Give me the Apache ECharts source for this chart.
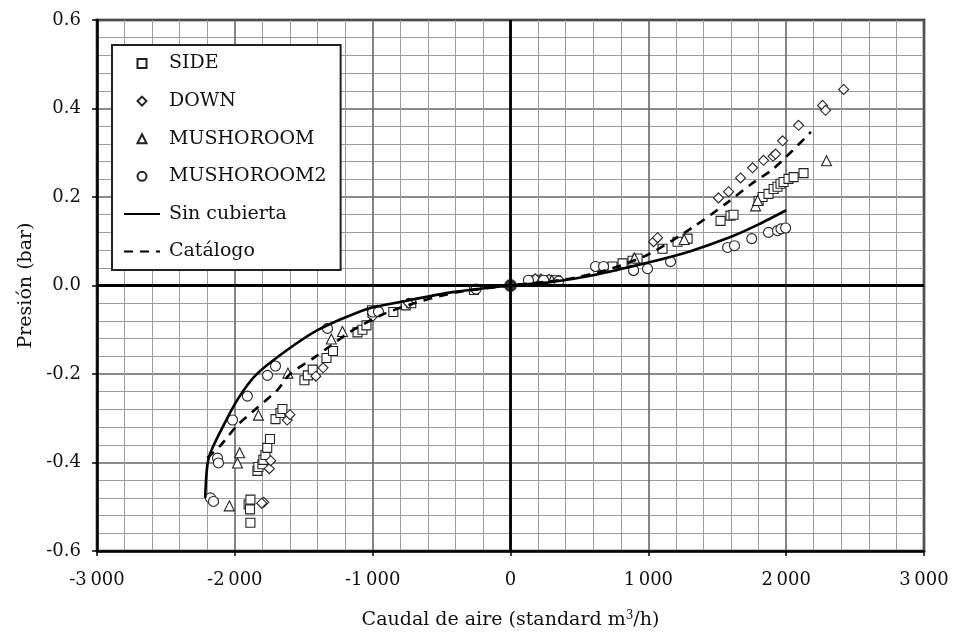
<!DOCTYPE html>
<html>
<head>
<meta charset="utf-8">
<script src="https://cdn.jsdelivr.net/npm/echarts@6/dist/echarts.min.js"></script>
<style>html,body{margin:0;padding:0;background:#fff;}#c{width:954px;height:635px;}</style>
</head>
<body>
<div id="c"></div>
<script>
var xTicks = [-3000, -2000, -1000, 0, 1000, 2000, 3000];
var yTicks = [-0.6, -0.4, -0.2, 0.0, 0.2, 0.4, 0.6];

var sideData = [
  [-1887,-0.536],[-1900,-0.495],[-1887,-0.484],[-1890,-0.506],[-1836,-0.419],[-1829,-0.41],
  [-1800,-0.404],[-1793,-0.394],[-1778,-0.383],[-1765,-0.367],[-1745,-0.347],
  [-1705,-0.302],[-1669,-0.288],[-1655,-0.279],[-1495,-0.214],[-1470,-0.203],[-1435,-0.19],
  [-1335,-0.164],[-1288,-0.148],[-1110,-0.106],[-1074,-0.1],[-1045,-0.09],[-1005,-0.056],
  [-850,-0.06],[-760,-0.045],[-720,-0.04],[-265,-0.01],
  [150,0.012],[200,0.013],[260,0.012],[330,0.012],
  [740,0.043],[813,0.05],[885,0.056],[922,0.061],[1103,0.083],[1212,0.099],[1285,0.106],
  [1524,0.146],[1596,0.158],[1618,0.16],[1800,0.191],[1829,0.2],[1872,0.207],[1909,0.218],
  [1937,0.223],[1959,0.23],[1981,0.234],[2017,0.241],[2054,0.245],[2126,0.254]
];
var downData = [
  [-1790,-0.49],[-1805,-0.492],[-1750,-0.414],[-1740,-0.396],[-1620,-0.304],[-1600,-0.292],
  [-1412,-0.205],[-1360,-0.186],[-1000,-0.07],[-740,-0.04],
  [180,0.015],[280,0.014],
  [1038,0.099],[1067,0.108],[1509,0.198],[1582,0.212],[1669,0.243],[1756,0.266],[1836,0.283],
  [1905,0.292],[1923,0.297],[1974,0.327],[2090,0.362],[2264,0.407],[2286,0.396],[2417,0.443]
];
var mushData = [
  [-2040,-0.498],[-1981,-0.401],[-1965,-0.378],[-1829,-0.293],[-1615,-0.198],[-1300,-0.121],
  [-1219,-0.104],[-965,-0.056],
  [220,0.015],[300,0.012],
  [900,0.062],[1260,0.104],[1778,0.18],[1793,0.192],[2293,0.282]
];
var mush2Data = [
  [-2177,-0.48],[-2155,-0.488],[-2126,-0.39],[-2119,-0.401],[-2017,-0.304],[-1909,-0.25],
  [-1763,-0.203],[-1705,-0.182],[-1328,-0.097],[-1000,-0.06],[-958,-0.059],[-250,-0.008],
  [130,0.012],[240,0.012],[350,0.01],
  [617,0.043],[675,0.043],[893,0.034],[994,0.038],[1161,0.054],[1575,0.086],[1625,0.09],
  [1750,0.106],[1872,0.12],[1937,0.124],[1962,0.128],[1996,0.13]
];
var sinCubierta = [
  [-2215,-0.48],[-2190,-0.39],[-2080,-0.315],[-1975,-0.255],[-1850,-0.203],[-1670,-0.157],
  [-1400,-0.101],[-1040,-0.053],[-780,-0.036],[-420,-0.015],[0,0],[300,0.008],[580,0.022],
  [1000,0.052],[1300,0.077],[1600,0.11],[1800,0.138],[2000,0.17]
];
var catalogo = [
  [-2200,-0.39],[-2100,-0.36],[-1980,-0.315],[-1840,-0.277],[-1690,-0.236],[-1600,-0.2],
  [-1430,-0.164],[-1300,-0.135],[-1160,-0.104],[-940,-0.067],[-700,-0.04],[-400,-0.016],
  [0,0],[400,0.014],[700,0.035],[1000,0.07],[1330,0.133],[1580,0.189],[1750,0.23],
  [1900,0.262],[2030,0.3],[2180,0.347]
];
var origin = [[0,0]];

var FONT = 'DejaVu Serif';
function fmtX(v){
  if (v === 0) return '0';
  var s = String(Math.abs(v)).replace(/\B(?=(\d{3})+(?!\d))/g,'\u2009');
  return (v < 0 ? '-' : '') + s;
}
function hollow(name, symbol, data, size){
  return {
    name: name, type: 'scatter', symbol: symbol, symbolSize: size, data: data,
    itemStyle: { color: '#fff', borderColor: '#222', borderWidth: 1.1, opacity: 1 },
    z: 4
  };
}

var chart = echarts.init(document.getElementById('c'));
chart.setOption({
  backgroundColor: '#fff',
  animation: false,
  grid: { left: 97, right: 30, top: 20, bottom: 82, show: true, borderColor: '#000', borderWidth: 2.5, backgroundColor: 'transparent' },
  legend: {
    orient: 'vertical', left: 112, top: 45,
    padding: [9, 14, 9, 11],
    itemWidth: 36, itemHeight: 9, itemGap: 18.6,
    symbolKeepAspect: true,
    backgroundColor: '#fff', borderColor: '#222', borderWidth: 2,
    textStyle: { fontFamily: FONT, fontSize: 19, color: '#111', padding: [0,0,0,4] },
    data: [
      { name: 'SIDE', icon: 'path://M0,0H10V10H0Z' },
      { name: 'DOWN', icon: 'path://M5,0L10,5L5,10L0,5Z' },
      { name: 'MUSHOROOM', icon: 'path://M5,0L10,10L0,10Z' },
      { name: 'MUSHOROOM2', icon: 'circle' },
      { name: 'Sin cubierta', itemStyle: { opacity: 0 } },
      { name: 'Catálogo', itemStyle: { opacity: 0 } }
    ]
  },
  xAxis: {
    type: 'value', min: xTicks[0], max: xTicks[xTicks.length-1], interval: 1000,
    axisLine: { onZero: false, lineStyle: { color: '#000', width: 2.5 } },
    axisTick: { show: true, length: 5, lineStyle: { color: '#000', width: 1.5 } },
    axisLabel: { formatter: fmtX, fontFamily: FONT, fontSize: 18, color: '#111', margin: 20 },
    splitLine: { show: true, lineStyle: { color: '#666', width: 1.6 } },
    minorTick: { show: false, splitNumber: 5 },
    minorSplitLine: { show: true, lineStyle: { color: '#9c9c9c', width: 1 } },
    name: 'Caudal de aire (standard m{sup|3}/h)', nameLocation: 'middle', nameGap: 59,
    nameTextStyle: { fontFamily: FONT, fontSize: 19, color: '#111',
      rich: { sup: { fontFamily: FONT, fontSize: 12, color: '#111', verticalAlign: 'top', padding: [0,0,9,0] } } }
  },
  yAxis: {
    type: 'value', min: yTicks[0], max: yTicks[yTicks.length-1], interval: 0.2,
    axisLine: { onZero: false, lineStyle: { color: '#000', width: 2.5 } },
    axisTick: { show: true, length: 5, lineStyle: { color: '#000', width: 1.5 } },
    axisLabel: { formatter: function(v){ return (Math.abs(v) < 1e-9 ? 0 : v).toFixed(1); }, fontFamily: FONT, fontSize: 18, color: '#111', margin: 16 },
    splitLine: { show: true, lineStyle: { color: '#666', width: 1.6 } },
    minorTick: { show: false, splitNumber: 5 },
    minorSplitLine: { show: true, lineStyle: { color: '#9c9c9c', width: 1 } },
    name: 'Presión (bar)', nameLocation: 'middle', nameGap: 61, nameRotate: 90,
    nameTextStyle: { fontFamily: FONT, fontSize: 19, color: '#111' }
  },
  series: [
    hollow('SIDE', 'rect', sideData, 9),
    hollow('DOWN', 'diamond', downData, 10),
    hollow('MUSHOROOM', 'triangle', mushData, 10),
    hollow('MUSHOROOM2', 'circle', mush2Data, 10),
    {
      name: 'Sin cubierta', type: 'line', data: sinCubierta, smooth: 0.25, showSymbol: false, symbol: 'none',
      lineStyle: { color: '#000', width: 2.6 }, itemStyle: { color: '#000' }, z: 5,
      markLine: {
        silent: true, symbol: 'none', label: { show: false },
        lineStyle: { color: '#000', width: 2.8, type: 'solid' },
        data: [ { xAxis: 0 }, { yAxis: 0 } ]
      }
    },
    {
      name: 'Catálogo', type: 'line', data: catalogo, smooth: 0.25, showSymbol: false, symbol: 'none',
      lineStyle: { color: '#000', width: 2.6, type: [9, 7] }, itemStyle: { color: '#000' }, z: 5
    },
    {
      name: 'origen', type: 'scatter', data: origin, symbol: 'circle', symbolSize: 13,
      itemStyle: { color: '#000' }, z: 6
    }
  ]
});
</script>
</body>
</html>
